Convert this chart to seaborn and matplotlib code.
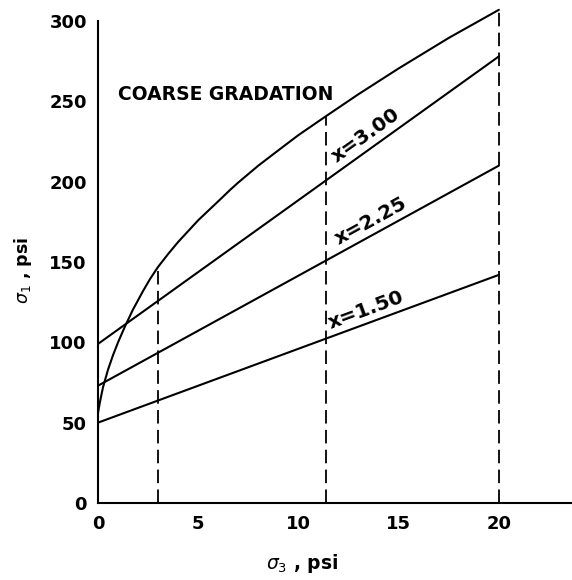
import numpy as np
import pandas as pd
import matplotlib
matplotlib.use("Agg")
import matplotlib.pyplot as plt
import seaborn as sns

# Failure envelope for the coarse gradation: sigma3 (psi) vs sigma1 (psi)
envelope_s3 = [0, 0.1, 0.25, 0.5, 0.75, 1.0, 1.35, 1.75, 2.25, 2.6, 3.0, 3.5,
               4.0, 5.0, 6.1, 6.6, 7.0, 8.0, 9.1, 10.0, 11.4, 13.0, 15.0,
               17.5, 20.0]
envelope_s1 = [56, 63, 72, 83, 92, 100, 110, 120.5, 132, 139.5, 147, 155,
               162.5, 176, 189, 195, 199.5, 210, 220.5, 229, 241, 254.5,
               270.5, 289.5, 307]

# Straight lines for each value of x (end points at sigma3 = 0 and 20)
line_names = ["x=1.50", "x=2.25", "x=3.00"]
line_s3 = [0, 20]
line_s1_150 = [50, 142]
line_s1_225 = [73, 210]
line_s1_300 = [99, 278]

# Dashed verticals: sigma3 position and the envelope value where they stop
ref_s3 = [3.0, 11.4, 20.0]
ref_top = [147, 241, 307]

x_ticks = [0, 5, 10, 15, 20]
y_ticks = [0, 50, 100, 150, 200, 250, 300]

sns.set_theme(style="white")
plt.rcParams["font.family"] = ["DejaVu Sans"]
plt.rcParams["mathtext.fontset"] = "dejavusans"

fig = plt.figure(figsize=(5.72, 5.80), dpi=100)
ax = fig.add_axes([0.1713, 0.1328, 0.8270, 0.8586])
ax.set_xlim(0, 23.6)
ax.set_ylim(0, 310)

ink = "black"
lw = 1.5

env = pd.DataFrame({"s3": envelope_s3, "s1": envelope_s1})
sns.lineplot(data=env, x="s3", y="s1", ax=ax, color=ink, lw=lw,
             sort=False, estimator=None)

lines = pd.DataFrame({
    "s3": line_s3 * 3,
    "s1": line_s1_150 + line_s1_225 + line_s1_300,
    "name": [n for n in line_names for _ in line_s3],
})
sns.lineplot(data=lines, x="s3", y="s1", units="name", estimator=None,
             color=ink, lw=lw, ax=ax, legend=False)

for xv, top in zip(ref_s3, ref_top):
    ax.plot([xv, xv], [0, top], color=ink, lw=1.3, dashes=(7.5, 3.5),
            solid_capstyle="butt")

# Labels along each line
label_pos = {"x=1.50": 13.6, "x=2.25": 13.9, "x=3.00": 13.75}
ends = {"x=1.50": line_s1_150, "x=2.25": line_s1_225, "x=3.00": line_s1_300}
for name in line_names:
    y0, y1 = ends[name]
    p0 = ax.transData.transform((line_s3[0], y0))
    p1 = ax.transData.transform((line_s3[1], y1))
    ang = np.degrees(np.arctan2(p1[1] - p0[1], p1[0] - p0[0]))
    xs = label_pos[name]
    ys = y0 + (y1 - y0) * (xs - line_s3[0]) / (line_s3[1] - line_s3[0])
    off = 2.5
    ax.annotate(name, (xs, ys),
                xytext=(-off * np.sin(np.radians(ang)), off * np.cos(np.radians(ang))),
                textcoords="offset points", rotation=ang, rotation_mode="anchor",
                ha="center", va="bottom", fontsize=14.5, fontweight="bold",
                color=ink)

ax.text(1.0, 254, "COARSE GRADATION", ha="left", va="center",
        fontsize=13.5, fontweight="bold", color=ink)

ax.set_xticks(x_ticks)
ax.set_yticks(y_ticks)
ax.set_xticklabels([str(v) for v in x_ticks], fontweight="bold")
ax.set_yticklabels([str(v) for v in y_ticks], fontweight="bold")
ax.tick_params(axis="both", direction="in", length=6, width=1.3,
               labelsize=13, colors=ink)
ax.tick_params(axis="x", pad=9)
ax.tick_params(axis="y", pad=8)

for side in ["top", "right"]:
    ax.spines[side].set_visible(False)
for side in ["left", "bottom"]:
    ax.spines[side].set_color(ink)
    ax.spines[side].set_linewidth(1.5)
ax.spines["left"].set_bounds(0, 300)

ax.set_xlabel(r"$\sigma_3$ , psi", fontsize=13.5, fontweight="bold", color=ink)
ax.set_ylabel(r"$\sigma_1$ , psi", fontsize=12.5, fontweight="bold", color=ink)
ax.xaxis.set_label_coords(0.431, -0.099)
ax.yaxis.set_label_coords(-0.135, 0.468)

fig.savefig("out.png", dpi=100)
